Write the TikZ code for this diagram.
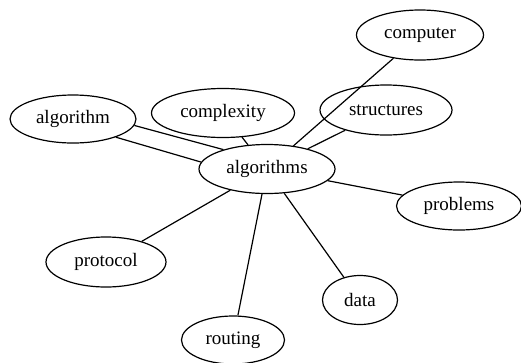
\documentclass[tikz,border=0pt]{standalone}
\usepackage{fontspec}
\setmainfont{Liberation Serif}
\usepackage{tikz}
\usetikzlibrary{shapes.geometric}
\tikzstyle{word} = [ellipse, draw, line width=1.2pt, inner sep=0pt, minimum height=49pt, font=\fontsize{19}{22}\selectfont]
\tikzstyle{link} = [line width=1.2pt]

\begin{document}
\begin{tikzpicture}[x=1pt, y=-1pt]
    \useasboundingbox (0,0) rectangle (521,362);

    \node (algorithms) at (267, 169) [word, minimum width=136pt] {algorithms};
    \node (computer)   at (420, 35)  [word, minimum width=127pt, minimum height=50pt] {computer};
    \node (algorithm)  at (73, 119)  [word, minimum width=126pt, minimum height=48pt] {algorithm};
    \node (complexity) at (223, 113) [word, minimum width=143pt] {complexity};
    \node (structures) at (386, 110) [word, minimum width=132pt, minimum height=50pt] {structures};
    \node (problems)   at (459, 206) [word, minimum width=125pt, minimum height=48pt] {problems};
    \node (protocol)   at (106, 262) [word, minimum width=120pt, minimum height=50pt] {protocol};
    \node (data)       at (360, 300) [word, minimum width=75pt] {data};
    \node (routing)    at (233, 340) [word, minimum width=103pt, minimum height=48pt] {routing};

    \draw [link] (algorithms) -- (computer);
    \draw [link] (algorithms) -- (structures);
    \draw [link] (algorithms) -- (complexity);
    \draw [link] (algorithms.156) -- (algorithm.-6);
    \draw [link] (algorithms.174) -- (algorithm.-23);
    \draw [link] (algorithms) -- (problems);
    \draw [link] (algorithms) -- (protocol);
    \draw [link] (algorithms) -- (data);
    \draw [link] (algorithms) -- (routing);
\end{tikzpicture}
\end{document}
